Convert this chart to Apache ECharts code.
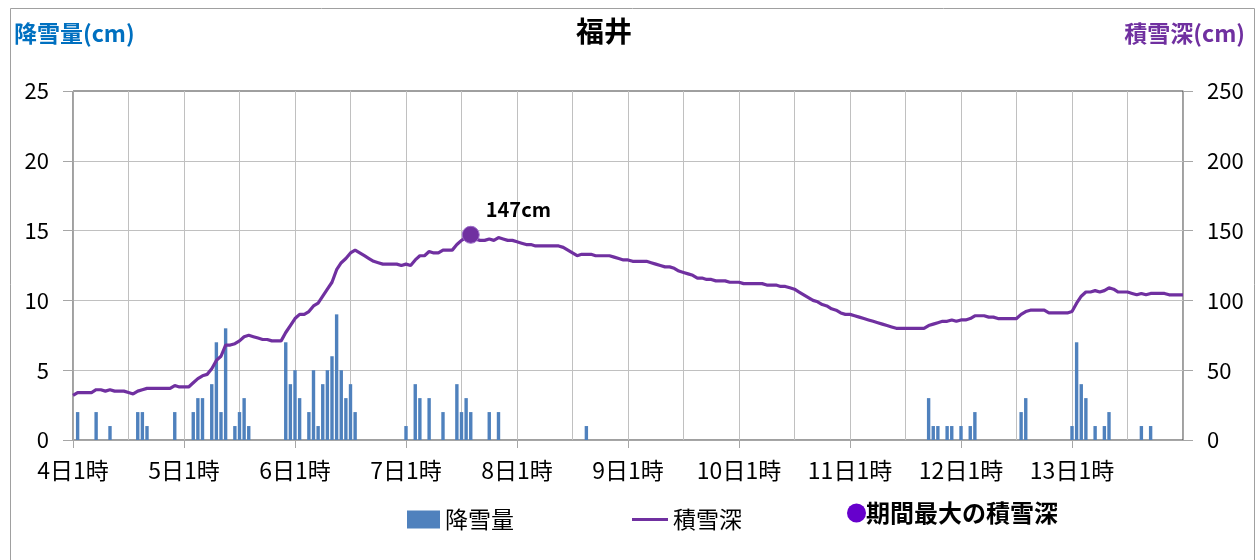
<!DOCTYPE html>
<html>
<head>
<meta charset="utf-8">
<script src="https://cdn.jsdelivr.net/npm/echarts@6/dist/echarts.min.js"></script>
<style>
  html, body { margin: 0; padding: 0; background: #fff; }
  #chart { width: 1257px; height: 560px; }
</style>
</head>
<body>
<div id="chart"></div>
<script>
// 福井: hourly snowfall (cm) and snow depth (cm), 4日1時 – 14日1時
const days = [4, 5, 6, 7, 8, 9, 10, 11, 12, 13];
const lastLabel = '14日1時';

// 降雪量 (cm), one row of 24 hourly values per day (1時 … 24時)
const snowfall4  = [0,2,0,0,0,2,0,0,1,0,0,0,0,0,2,2,1,0,0,0,0,0,2,0];
const snowfall5  = [0,0,2,3,3,0,4,7,2,8,0,1,2,3,1,0,0,0,0,0,0,0,7,4];
const snowfall6  = [5,3,0,2,5,1,4,5,6,9,5,3,4,2,0,0,0,0,0,0,0,0,0,0];
const snowfall7  = [1,0,4,3,0,3,0,0,2,0,0,4,2,3,2,0,0,0,2,0,2,0,0,0];
const snowfall8  = [0,0,0,0,0,0,0,0,0,0,0,0,0,0,0,1,0,0,0,0,0,0,0,0];
const snowfall9  = [0,0,0,0,0,0,0,0,0,0,0,0,0,0,0,0,0,0,0,0,0,0,0,0];
const snowfall10 = [0,0,0,0,0,0,0,0,0,0,0,0,0,0,0,0,0,0,0,0,0,0,0,0];
const snowfall11 = [0,0,0,0,0,0,0,0,0,0,0,0,0,0,0,0,0,3,1,1,0,1,1,0];
const snowfall12 = [1,0,1,2,0,0,0,0,0,0,0,0,0,2,3,0,0,0,0,0,0,0,0,0];
const snowfall13 = [1,7,4,3,0,1,0,1,2,0,0,0,0,0,0,1,0,1,0,0,0,0,0,0];
const snowfallLast = 0;

// 積雪深 (cm), same layout
const depth4  = [32,34,34,34,34,36,36,35,36,35,35,35,34,33,35,36,37,37,37,37,37,37,39,38];
const depth5  = [38,38,41,44,46,47,51,57,60,68,68,69,71,74,75,74,73,72,72,71,71,71,77,82];
const depth6  = [87,90,90,92,96,98,103,108,113,122,127,130,134,136,134,132,130,128,127,126,126,126,126,125];
const depth7  = [126,125,129,132,132,135,134,134,136,136,136,140,143,145,147,144,143,143,144,143,145,144,143,143];
const depth8  = [142,141,140,140,139,139,139,139,139,139,138,136,134,132,133,133,133,132,132,132,132,131,130,129];
const depth9  = [129,128,128,128,128,127,126,125,124,124,123,121,120,119,118,116,116,115,115,114,114,114,113,113];
const depth10 = [113,112,112,112,112,112,111,111,111,110,110,109,108,106,104,102,100,99,97,96,94,93,91,90];
const depth11 = [90,89,88,87,86,85,84,83,82,81,80,80,80,80,80,80,80,82,83,84,85,85,86,85];
const depth12 = [86,86,87,89,89,89,88,88,87,87,87,87,87,90,92,93,93,93,93,91,91,91,91,91];
const depth13 = [92,98,103,106,106,107,106,107,109,108,106,106,106,105,104,105,104,105,105,105,105,104,104,104];
const depthLast = 104;

const leftTicks = { min: 0, max: 25, interval: 5 };
const rightTicks = { min: 0, max: 250, interval: 50 };

// hourly categories
const categories = [];
days.forEach(d => { for (let h = 1; h <= 24; h++) categories.push(d + '日' + h + '時'); });
categories.push(lastLabel);

const snowfall = [].concat(snowfall4, snowfall5, snowfall6, snowfall7, snowfall8,
  snowfall9, snowfall10, snowfall11, snowfall12, snowfall13, [snowfallLast]);
const depth = [].concat(depth4, depth5, depth6, depth7, depth8,
  depth9, depth10, depth11, depth12, depth13, [depthLast]);

// period maximum of snow depth
let maxIdx = 0;
depth.forEach((v, i) => { if (v > depth[maxIdx]) maxIdx = i; });
const maxValue = depth[maxIdx];

const FONT = "'Noto Sans CJK JP', 'Noto Sans', sans-serif";
const AXIS_GREY = '#A6A6A6';
const GRID_GREY = '#C0C0C0';
const BAR_BLUE = '#4F81BD';
const LINE_PURPLE = '#7030A0';
const lastIdx = categories.length - 1;

const chart = echarts.init(document.getElementById('chart'), null, { renderer: 'canvas' });

const legendText = { fontSize: 23, color: '#000', fontFamily: FONT };

chart.setOption({
  backgroundColor: '#ffffff',
  animation: false,
  textStyle: { fontFamily: FONT },
  graphic: [{
    type: 'rect',
    shape: { x: 10.5, y: 8.5, width: 1244, height: 600 },
    style: { fill: 'none', stroke: '#A0A0A0', lineWidth: 1 },
    silent: true, z: -10
  }],
  title: [
    { text: '福井', left: 576, top: 17, padding: 0,
      textStyle: { fontSize: 28, fontWeight: 'bold', color: '#000', fontFamily: FONT } },
    { text: '降雪量(cm)', left: 14, top: 22, padding: 0,
      textStyle: { fontSize: 23, fontWeight: 'bold', color: '#0070C0', fontFamily: FONT } },
    { text: '積雪深(cm)', right: 12, top: 22, padding: 0,
      textStyle: { fontSize: 23, fontWeight: 'bold', color: LINE_PURPLE, fontFamily: FONT } }
  ],
  legend: [
    {
      data: [{ name: '降雪量', icon: 'rect', itemStyle: { color: BAR_BLUE } }],
      left: 407, top: 508, padding: 0,
      itemWidth: 33, itemHeight: 18,
      textStyle: legendText
    },
    {
      data: [{ name: '積雪深', icon: 'rect', itemStyle: { color: LINE_PURPLE } }],
      left: 632, top: 508, padding: 0,
      itemWidth: 36, itemHeight: 3,
      textStyle: legendText
    },
    {
      data: [{ name: '期間最大の積雪深', icon: 'circle', itemStyle: { color: '#6600CC', borderWidth: 0 } }],
      left: 847, top: 501, padding: 0,
      itemWidth: 19, itemHeight: 19,
      textStyle: { fontSize: 24, fontWeight: 'bold', color: '#000', fontFamily: FONT, padding: [0, 0, 0, -5] }
    }
  ],
  grid: {
    left: 73, right: 74, top: 91, bottom: 120,
    show: true, borderColor: '#404040', borderWidth: 1, backgroundColor: 'transparent'
  },
  xAxis: {
    type: 'category',
    data: categories,
    boundaryGap: false,
    axisLine: { show: true, lineStyle: { color: AXIS_GREY, width: 1 } },
    axisTick: { show: true, length: 8, interval: i => i % 24 === 0 && i < lastIdx,
      lineStyle: { color: AXIS_GREY } },
    axisLabel: { interval: i => i % 24 === 0 && i < lastIdx, margin: 19,
      fontSize: 23, color: '#000', fontFamily: FONT },
    splitLine: { show: true, interval: i => i % 12 === 0 && i > 0 && i < lastIdx,
      lineStyle: { color: GRID_GREY, width: 1 } }
  },
  yAxis: [
    {
      type: 'value', position: 'left',
      min: leftTicks.min, max: leftTicks.max, interval: leftTicks.interval,
      axisLine: { show: true, lineStyle: { color: AXIS_GREY } },
      axisTick: { show: true, length: 10, lineStyle: { color: AXIS_GREY } },
      axisLabel: { margin: 24, fontSize: 22, color: '#000', fontFamily: FONT },
      splitLine: { show: true, showMaxLine: false, showMinLine: false,
        lineStyle: { color: GRID_GREY, width: 1 } }
    },
    {
      type: 'value', position: 'right',
      min: rightTicks.min, max: rightTicks.max, interval: rightTicks.interval,
      axisLine: { show: true, lineStyle: { color: AXIS_GREY } },
      axisTick: { show: true, length: 10, lineStyle: { color: AXIS_GREY } },
      axisLabel: { margin: 24, fontSize: 22, color: '#000', fontFamily: FONT },
      splitLine: { show: false }
    }
  ],
  series: [
    {
      name: '降雪量',
      type: 'bar',
      yAxisIndex: 0,
      data: snowfall,
      barWidth: 3.4,
      itemStyle: { color: BAR_BLUE },
      z: 2
    },
    {
      name: '積雪深',
      type: 'line',
      yAxisIndex: 1,
      data: depth,
      symbol: 'none',
      smooth: false,
      lineStyle: { color: LINE_PURPLE, width: 3.2 },
      itemStyle: { color: LINE_PURPLE },
      z: 3
    },
    {
      name: '期間最大の積雪深',
      type: 'scatter',
      yAxisIndex: 1,
      data: [[maxIdx, maxValue]],
      symbol: 'circle',
      symbolSize: 17,
      itemStyle: { color: LINE_PURPLE, opacity: 1, borderColor: '#9B6BC8', borderWidth: 1 },
      label: {
        show: true, position: 'right', distance: 6, offset: [0, -25],
        formatter: () => maxValue + 'cm',
        fontSize: 20, fontWeight: 'bold', color: '#000', fontFamily: FONT
      },
      z: 4
    }
  ]
});
</script>
</body>
</html>
